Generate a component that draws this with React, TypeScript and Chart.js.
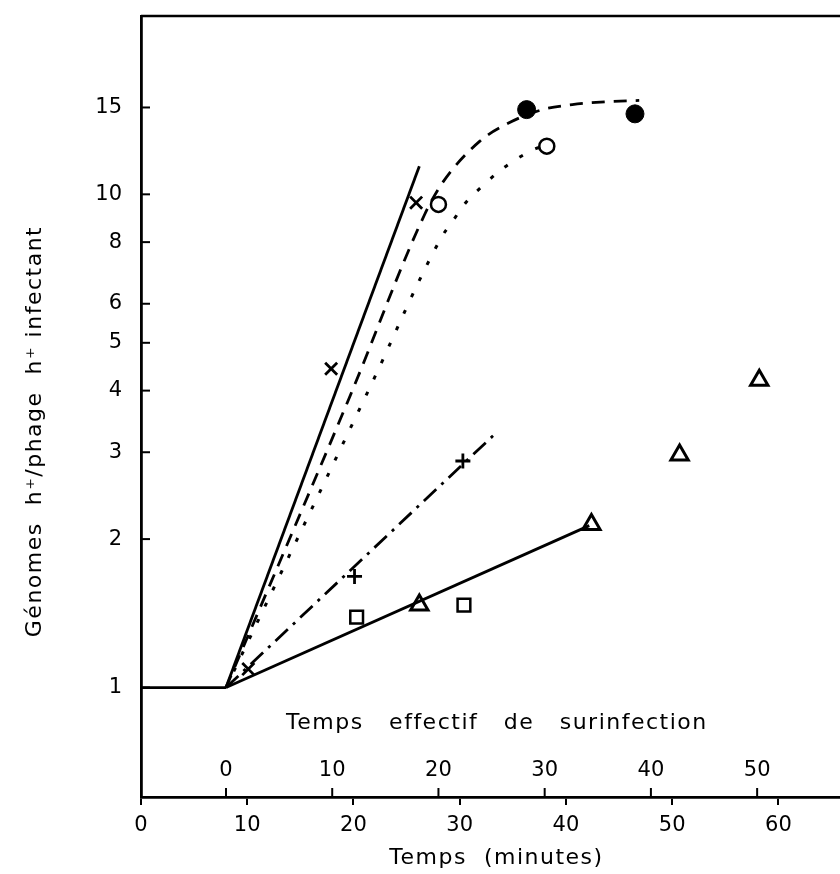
import React, { useEffect, useRef } from "react";
import { Chart, registerables } from "chart.js";

Chart.register(...registerables);

// Axis limits (minutes, genomes)
const xMin = 0;
const xMax = 65.8;
const yMin = 0.6075;
const yMax = 22.99;

const xTicks = [0, 10, 20, 30, 40, 50, 60];
const yTicks = [1, 2, 3, 4, 5, 6, 8, 10, 15];
const effOffset = 8; // effective time 0 = 8 minutes
const effTicks = [0, 10, 20, 30, 40, 50];

// Lines
const baseT = [0, 8];
const baseV = [1, 1];
const steepT = [8, 26.2];
const steepV = [1, 11.4];
const dashT = [8, 19.7, 26.7, 28.4, 31.9, 34.7, 37.8, 40.6, 43.8, 46.9];
const dashV = [1, 3.91, 9.1, 10.57, 12.82, 13.98, 14.85, 15.2, 15.41, 15.5];
const dotT = [8, 21.5, 28.3, 29.35, 30.6, 32.0, 33.6, 35.3, 37.2, 37.8];
const dotV = [1, 4.04, 8.19, 8.83, 9.64, 10.33, 11.08, 11.77, 12.39, 12.5];
const dashDotT = [8, 33.6];
const dashDotV = [1, 3.31];
const lowT = [8, 42.2];
const lowV = [1, 2.13];

// Markers
const crossT = [10.1, 17.9, 25.9];
const crossV = [1.09, 4.43, 9.62];
const filledT = [36.3, 46.5];
const filledV = [14.85, 14.56];
const openT = [28.0, 38.2];
const openV = [9.54, 12.52];
const plusT = [20.1, 30.3];
const plusV = [1.68, 2.88];
const triT = [26.2, 42.4, 50.7, 58.2];
const triV = [1.47, 2.14, 2.96, 4.2];
const sqT = [20.3, 30.4];
const sqV = [1.39, 1.47];

const pts = (t: number[], v: number[]) => t.map((x, i) => ({ x, y: v[i] }));

const FONT = "'DejaVu Sans', sans-serif";

const lineDs = (t: number[], v: number[], dash: number[], curve = false) => ({
  type: "line" as const,
  data: pts(t, v),
  borderColor: "#000",
  borderWidth: 2.8,
  borderDash: dash,
  pointRadius: 0,
  fill: false,
  cubicInterpolationMode: curve ? ("monotone" as const) : ("default" as const),
  tension: 0,
});

const markerDs = (t: number[], v: number[], style: string, radius: number, bg: string, bw: number) => ({
  type: "scatter" as const,
  data: pts(t, v),
  pointStyle: style,
  pointRadius: radius,
  pointBackgroundColor: bg,
  pointBorderColor: "#000",
  pointBorderWidth: bw,
  showLine: false,
});

const patchTitles = (chart: any) => {
  (["x", "y"] as const).forEach((id) => {
    const s = chart.scales[id];
    if (!s || s.__patched) return;
    const orig = s.drawTitle.bind(s);
    s.drawTitle = function () {
      const ctx = chart.ctx;
      ctx.save();
      try {
        ctx.letterSpacing = "1.5px";
      } catch (e) {}
      if (id === "y") ctx.translate(0, 25);
      else ctx.translate(6, 0);
      orig();
      ctx.restore();
    };
    s.__patched = true;
  });
};

const extrasPlugin = {
  id: "extras",
  beforeDraw(chart: any) {
    patchTitles(chart);
  },
  afterDraw(chart: any) {
    const { ctx, chartArea } = chart;
    const xs = chart.scales.x;
    const ys = chart.scales.y;
    ctx.save();
    ctx.strokeStyle = "#000";
    ctx.fillStyle = "#000";
    // top frame line
    ctx.lineWidth = 2.5;
    ctx.beginPath();
    ctx.moveTo(chartArea.left, chartArea.top);
    ctx.lineTo(chartArea.right, chartArea.top);
    ctx.stroke();
    // inward y ticks
    ctx.lineWidth = 2;
    yTicks.forEach((v) => {
      const py = ys.getPixelForValue(v);
      ctx.beginPath();
      ctx.moveTo(chartArea.left, py);
      ctx.lineTo(chartArea.left + 9, py);
      ctx.stroke();
    });
    // effective time ticks (upward) and labels
    ctx.font = `21px ${FONT}`;
    ctx.textAlign = "center";
    ctx.textBaseline = "middle";
    effTicks.forEach((e) => {
      const px = xs.getPixelForValue(e + effOffset);
      ctx.beginPath();
      ctx.moveTo(px, chartArea.bottom);
      ctx.lineTo(px, chartArea.bottom - 9);
      ctx.stroke();
      ctx.fillText(String(e), px, chartArea.bottom - 26);
    });
    try {
      ctx.letterSpacing = "1.5px";
    } catch (e) {}
    ctx.font = `22px ${FONT}`;
    const cx = xs.getPixelForValue(effOffset + 25.5);
    ctx.fillText("Temps   effectif   de   surinfection", cx, chartArea.bottom - 74);
    ctx.restore();
  },
};

export default function App() {
  const ref = useRef<HTMLCanvasElement | null>(null);
  useEffect(() => {
    if (!ref.current) return;
    Chart.defaults.font.family = FONT;
    Chart.defaults.color = "#000";
    const triDot = markerDs(triT, triV, "circle", 1.8, "#000", 0);
    const sqDot = markerDs(sqT, sqV, "circle", 1.8, "#000", 0);
    const chart = new Chart(ref.current, {
      type: "scatter",
      data: {
        datasets: [
          lineDs(baseT, baseV, []),
          lineDs(steepT, steepV, []),
          lineDs(dashT, dashV, [13, 9], true),
          { ...lineDs(dotT, dotV, [4, 14], true), borderWidth: 3 },
          lineDs(dashDotT, dashDotV, [17, 7, 3, 7]),
          lineDs(lowT, lowV, []),
          markerDs(crossT, crossV, "crossRot", 8.5, "#000", 2.8),
          markerDs(filledT, filledV, "circle", 9, "#000", 1),
          markerDs(openT, openV, "circle", 7.5, "#fff", 2.5),
          markerDs(plusT, plusV, "cross", 7.5, "#000", 2.8),
          markerDs(triT, triV, "triangle", 10, "#fff", 3),
          triDot,
          markerDs(sqT, sqV, "rect", 9, "#fff", 2.5),
          sqDot,
        ] as any,
      },
      options: {
        animation: false,
        responsive: false,
        maintainAspectRatio: false,
        layout: { padding: { left: 0, top: 16, right: 0, bottom: 0 } },
        plugins: { legend: { display: false }, tooltip: { enabled: false } },
        scales: {
          x: {
            type: "linear",
            min: xMin,
            max: xMax,
            afterFit: (s: any) => {
              s.height = 77;
              s.paddingLeft = 0;
              s.paddingRight = 0;
            },
            afterBuildTicks: (s: any) => {
              s.ticks = xTicks.map((v) => ({ value: v }));
            },
            ticks: {
              autoSkip: false,
              padding: 8,
              font: { size: 21, family: FONT },
              color: "#000",
              maxRotation: 0,
              callback: (v: any) => String(v),
            },
            grid: {
              display: true,
              drawOnChartArea: false,
              drawTicks: true,
              tickLength: 8,
              color: "#000",
              lineWidth: 2,
            },
            border: { display: true, color: "#000", width: 2.8 },
            title: {
              display: true,
              text: "Temps  (minutes)",
              font: { size: 22, family: FONT },
              color: "#000",
              padding: { top: 0, bottom: 3 },
            },
          },
          y: {
            type: "logarithmic",
            min: yMin,
            max: yMax,
            afterFit: (s: any) => {
              s.width = 141;
              s.paddingTop = 0;
              s.paddingBottom = 0;
            },
            afterBuildTicks: (s: any) => {
              s.ticks = yTicks.map((v) => ({ value: v }));
            },
            ticks: {
              autoSkip: false,
              padding: 19,
              font: { size: 21, family: FONT },
              color: "#000",
              callback: (v: any) => String(v),
            },
            grid: { display: false, drawTicks: false },
            border: { display: true, color: "#000", width: 2.8 },
            title: {
              display: true,
              text: "Génomes  h⁺/phage  h⁺ infectant",
              font: { size: 22, family: FONT },
              color: "#000",
              padding: { top: 22, bottom: 0 },
            },
          },
        },
      } as any,
      plugins: [extrasPlugin],
    });
    return () => chart.destroy();
  }, []);
  return (
    <div style={{ position: "fixed", left: 0, top: 0, width: 840, height: 874, overflow: "hidden", background: "#fff" }}>
      <canvas ref={ref} width={853} height={874} style={{ display: "block", width: 853, height: 874 }} />
    </div>
  );
}
